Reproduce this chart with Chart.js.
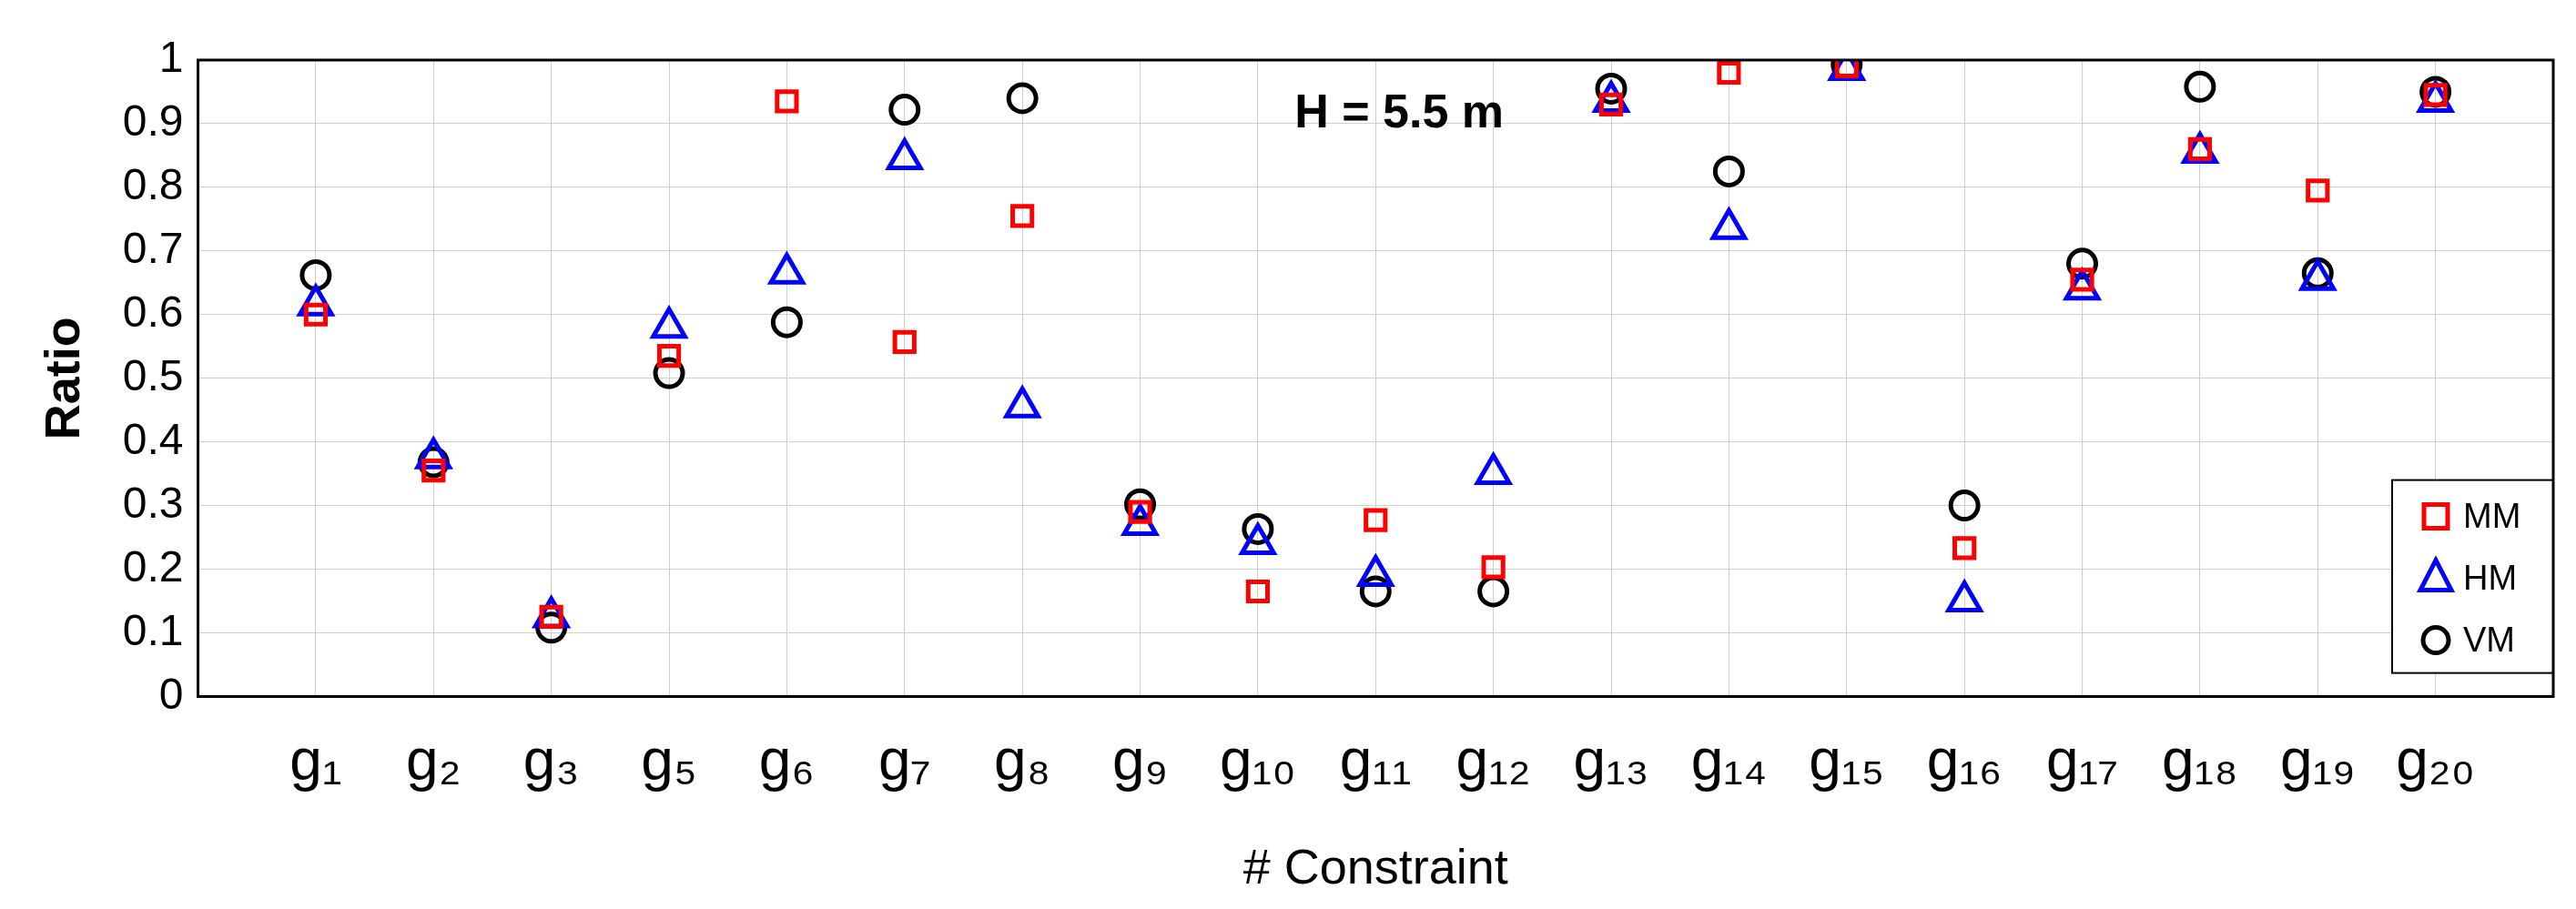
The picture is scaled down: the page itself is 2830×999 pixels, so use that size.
<!DOCTYPE html>
<html>
<head>
<meta charset="utf-8">
<script src="https://cdn.jsdelivr.net/npm/chart.js@4/dist/chart.umd.min.js"></script>
<style>body{margin:0;background:#fff}</style>
</head>
<body>
<canvas id="myChart" width="2830" height="999"></canvas>
<script>
// constraint ids and series
const constraints = [1, 2, 3, 5, 6, 7, 8, 9, 10, 11, 12, 13, 14, 15, 16, 17, 18, 19, 20];
const mm = [0.60, 0.355, 0.125, 0.535, 0.935, 0.557, 0.755, 0.29, 0.165, 0.277, 0.203, 0.93, 0.98, 0.99, 0.233, 0.655, 0.86, 0.795, 0.945];
const hm = [0.615, 0.375, 0.125, 0.58, 0.665, 0.845, 0.455, 0.27, 0.24, 0.19, 0.35, 0.935, 0.735, 0.985, 0.15, 0.64, 0.855, 0.655, 0.935];
const vm = [0.662, 0.368, 0.108, 0.508, 0.588, 0.922, 0.94, 0.302, 0.263, 0.165, 0.165, 0.955, 0.825, 0.993, 0.30, 0.68, 0.958, 0.665, 0.95];
const yTicks = [0, 0.1, 0.2, 0.3, 0.4, 0.5, 0.6, 0.7, 0.8, 0.9, 1];

const sub = {'0':'₀','1':'₁','2':'₂','3':'₃','4':'₄','5':'₅','6':'₆','7':'₇','8':'₈','9':'₉'};
const gLabel = n => 'g' + String(n).split('').map(c => sub[c]).join('');

function series(label, vals, style, color) {
    return {
        label: label,
        data: vals.map((v, i) => ({x: i + 1, y: v})),
        showLine: false,
        pointStyle: style,
        pointRadius: style === 'triangle' ? 20 : 15,
        pointBorderWidth: 5,
        pointBorderColor: color,
        pointBackgroundColor: 'rgba(0,0,0,0)',
        borderColor: color
    };
}

// title text and legend box inside the plot area
const extras = {
    id: 'extras',
    afterDraw(chart) {
        const c = chart.ctx, a = chart.chartArea;
        const sx = chart.scales.x, sy = chart.scales.y;
        c.save();
        c.fillStyle = '#000';
        c.font = 'bold 52px Arial, "Liberation Sans"';
        c.textAlign = 'center';
        c.textBaseline = 'middle';
        c.fillText('H = 5.5 m', sx.getPixelForValue(10.2), sy.getPixelForValue(0.915));
        // legend
        const bx = a.right - 177, by = sy.getPixelForValue(0.34), bw = 177, bh = 212;
        c.fillStyle = '#fff';
        c.fillRect(bx, by, bw, bh);
        c.strokeStyle = '#000';
        c.lineWidth = 2;
        c.strokeRect(bx, by, bw, bh);
        c.font = '38px Arial, "Liberation Sans"';
        c.textAlign = 'left';
        chart.data.datasets.forEach((ds, i) => {
            const yy = by + 40 + i * 68, xx = bx + 48;
            c.strokeStyle = ds.pointBorderColor;
            c.lineWidth = 5;
            c.beginPath();
            if (ds.pointStyle === 'rect') c.rect(xx - 13, yy - 13, 26, 26);
            else if (ds.pointStyle === 'triangle') { c.moveTo(xx, yy - 20); c.lineTo(xx + 17, yy + 13); c.lineTo(xx - 17, yy + 13); c.closePath(); }
            else c.arc(xx, yy, 14, 0, Math.PI * 2);
            c.stroke();
            c.fillStyle = '#000';
            c.fillText(ds.label, xx + 30, yy + 2);
        });
        c.restore();
    }
};

const ctx = document.getElementById('myChart');
const myChart = new Chart(ctx, {
    type: 'scatter',
    data: {
        datasets: [
            series('MM', mm, 'rect', '#ff0000'),
            series('HM', hm, 'triangle', '#0000ff'),
            series('VM', vm, 'circle', '#000000')
        ]
    },
    options: {
        responsive: false,
        animation: false,
        devicePixelRatio: 1,
        layout: {padding: {top: 66, right: 22, left: 40, bottom: 10}},
        plugins: {legend: {display: false}, tooltip: {enabled: false}},
        scales: {
            x: {
                type: 'linear', min: 0, max: constraints.length + 1,
                afterBuildTicks: ax => { ax.ticks = constraints.map((c, i) => ({value: i + 1})); },
                ticks: {
                    callback: (v) => gLabel(constraints[v - 1]),
                    color: '#000', font: {size: 64, family: 'Arial, "Liberation Sans"'},
                    maxRotation: 0, autoSkip: false, padding: 36
                },
                grid: {color: '#cfcfcf', lineWidth: 1, drawTicks: false},
                border: {color: '#000', width: 3},
                title: {display: true, text: '# Constraint', color: '#000', font: {size: 54, family: 'Arial, "Liberation Sans"'}, padding: {top: 10, bottom: 0}}
            },
            y: {
                min: 0, max: 1,
                afterBuildTicks: ax => { ax.ticks = yTicks.map(v => ({value: v})); },
                ticks: {
                    callback: v => String(Math.round(v * 10) / 10),
                    color: '#000', font: {size: 48, family: 'Arial, "Liberation Sans"'}, padding: 16
                },
                grid: {color: '#cfcfcf', lineWidth: 1, drawTicks: false},
                border: {color: '#000', width: 3},
                title: {display: true, text: 'Ratio', color: '#000', font: {size: 54, weight: 'bold', family: 'Arial, "Liberation Sans"'}, padding: {top: 0, bottom: 14}}
            }
        }
    },
    plugins: [extras, {
        id: 'frame',
        afterDraw(chart) {
            const a = chart.chartArea, c = chart.ctx;
            c.save(); c.strokeStyle = '#000'; c.lineWidth = 3;
            c.strokeRect(a.left, a.top, a.right - a.left, a.bottom - a.top);
            c.restore();
        }
    }]
});
</script>
</body>
</html>
